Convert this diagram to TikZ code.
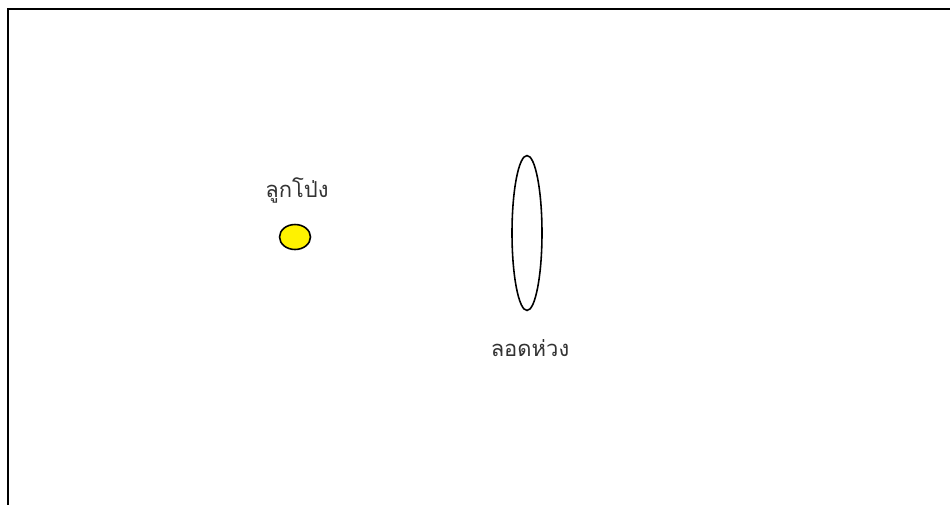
\documentclass[tikz,border=0pt]{standalone}
\usepackage{fontspec}
\newfontfamily\thaifont[Script=Thai]{Loma}
\usetikzlibrary{shapes.geometric, positioning}

\begin{document}
\begin{tikzpicture}[x=0.02cm, y=-0.02cm,
  frame/.style={line width=1.2pt, black},
  lbl/.style={font=\thaifont\fontsize{12.5}{15}\selectfont, text=black!80, inner sep=0pt},
  ball/.style={ellipse, draw, line width=0.9pt, fill=yellow,
               minimum width=0.62cm, minimum height=0.5cm, inner sep=0pt},
  hoopshape/.style={ellipse, draw, line width=0.9pt, fill=white,
               minimum width=0.6cm, minimum height=3.1cm, inner sep=0pt}
]
\useasboundingbox (0,0) rectangle (950,504);
% Frame (only top and left edges show)
\draw[frame] (8,520) -- (8,9) -- (970,9);
% Balloon
\node[ball] (balloon) at (295,237) {};
\node[lbl] (balloonlbl) at (297,190) {ลูกโป่ง};
% Hoop
\node[hoopshape] (hoop) at (527,233) {};
\node[lbl] (hooplbl) at (530,348) {ลอดห่วง};
\end{tikzpicture}
\end{document}
